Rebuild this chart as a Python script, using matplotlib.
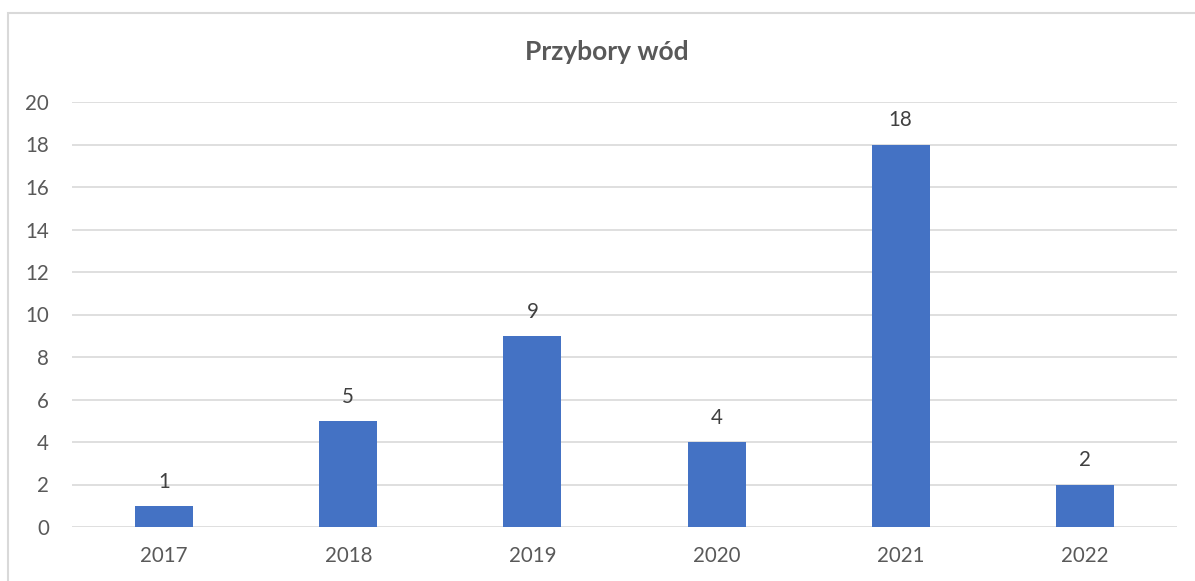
import matplotlib.pyplot as plt
from matplotlib.patches import Rectangle

years = ['2017', '2018', '2019', '2020', '2021', '2022']
counts = [1, 5, 9, 4, 18, 2]

plt.rcParams['font.family'] = ['Lato', 'DejaVu Sans']

fig = plt.figure(figsize=(11.95, 5.81), dpi=100)
ax = fig.add_axes([72/1195, 54/581, (1177-72)/1195, (527-102)/581])

# outer chart border
fig.patches.append(Rectangle((8/1195, -0.01), 1.0, 1 - 13/581 + 0.01, transform=fig.transFigure,
                             fill=False, edgecolor='#d9d9d9', lw=1.5))

x = range(len(years))
ax.bar(x, counts, width=0.315, color='#4472c4', zorder=3)
for xi, v in zip(x, counts):
    ax.text(xi, v + 0.66, str(v), ha='center', va='bottom', fontsize=14.8, color='#404040')

ax.set_xlim(-0.5, len(years) - 0.5)
ax.set_ylim(0, 20)
ax.set_yticks(range(0, 21, 2))
ax.set_xticks(list(x))
ax.set_xticklabels(years)
ax.grid(axis='y', color='#d9d9d9', lw=1.2, zorder=0)
for s in ax.spines.values():
    s.set_visible(False)
ax.tick_params(length=0, labelsize=14.8, labelcolor='#595959')
ax.tick_params(axis='y', pad=16.5)
ax.tick_params(axis='x', pad=13.5)

fig.text(607/1195, 1 - 52/581, 'Przybory wód', ha='center', va='center',
         fontsize=19, fontweight='bold', color='#595959')

fig.savefig('out.png', dpi=100)
